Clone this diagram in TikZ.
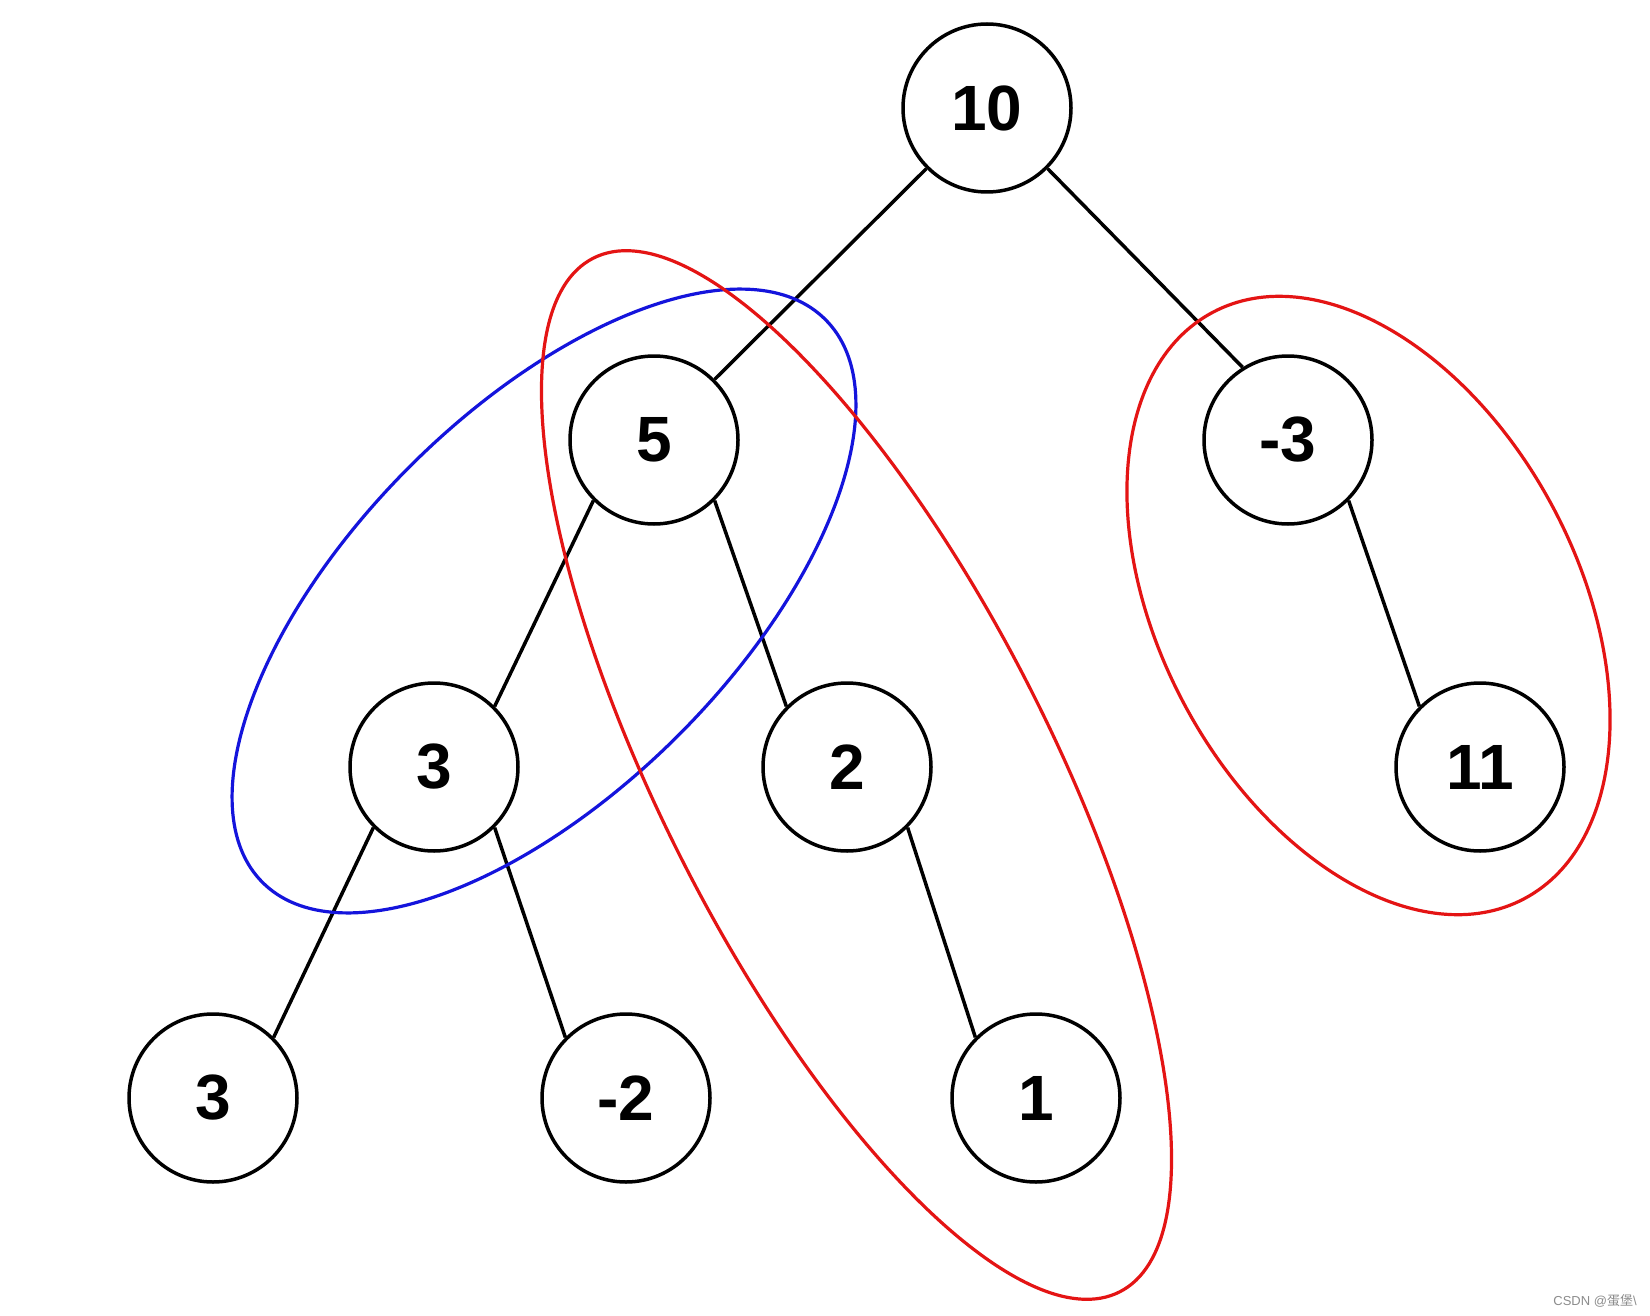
\documentclass[tikz,border=0pt]{standalone}
\usepackage{fontspec}
\setmainfont{Liberation Sans}
\newfontfamily\cjk{Noto Sans CJK SC}
\definecolor{ringred}{RGB}{228,20,20}
\definecolor{ringblue}{RGB}{20,20,220}
\definecolor{wmgray}{RGB}{140,140,140}
\begin{document}
\begin{tikzpicture}[x=1pt,y=-1pt,
  tnode/.style={circle,draw,line width=3.5pt,minimum size=168pt,inner sep=0pt,fill=white,
    font=\fontsize{64}{64}\selectfont\bfseries},
  edge/.style={line width=3.5pt},
  ring/.style={line width=3.2pt}]
\useasboundingbox[fill=white] (0,0) rectangle (1650,1316);
\node[tnode] (n10) at (987,108) {10};
\node[tnode] (n5) at (654,440) {5};
\node[tnode] (nm3) at (1288,440) {-3};
\node[tnode] (n3) at (434,767) {3};
\node[tnode] (n2) at (847,767) {2};
\node[tnode] (n11) at (1480,767) {11};
\node[tnode] (n3b) at (213,1098) {3};
\node[tnode] (nm2) at (626,1098) {-2};
\node[tnode] (n1) at (1036,1098) {1};
\draw[edge] (n10.225) -- (n5.45);
\draw[edge] (n10.-45) -- (nm3.122);
\draw[edge] (n5.225) -- (n3.45);
\draw[edge] (n5.-45) -- (n2.135);
\draw[edge] (nm3.-45) -- (n11.135);
\draw[edge] (n3.225) -- (n3b.45);
\draw[edge] (n3.-45) -- (nm2.135);
\draw[edge] (n2.-45) -- (n1.135);
\draw[ring,ringblue,rotate around={45:(544,601)}] (544,601) ellipse [x radius=398pt, y radius=190pt];
\draw[ring,ringred,rotate around={-63:(856.5,775)}] (856.5,775) ellipse [x radius=580pt, y radius=194pt];
\draw[ring,ringred,rotate around={-62:(1368.5,605.5)}] (1368.5,605.5) ellipse [x radius=332pt, y radius=209pt];
\node[font=\fontsize{13}{13}\selectfont,text=wmgray,inner sep=0pt] (wm) at (1595,1301) {CSDN @{\cjk 蛋堡}\textbackslash};
\end{tikzpicture}
\end{document}
